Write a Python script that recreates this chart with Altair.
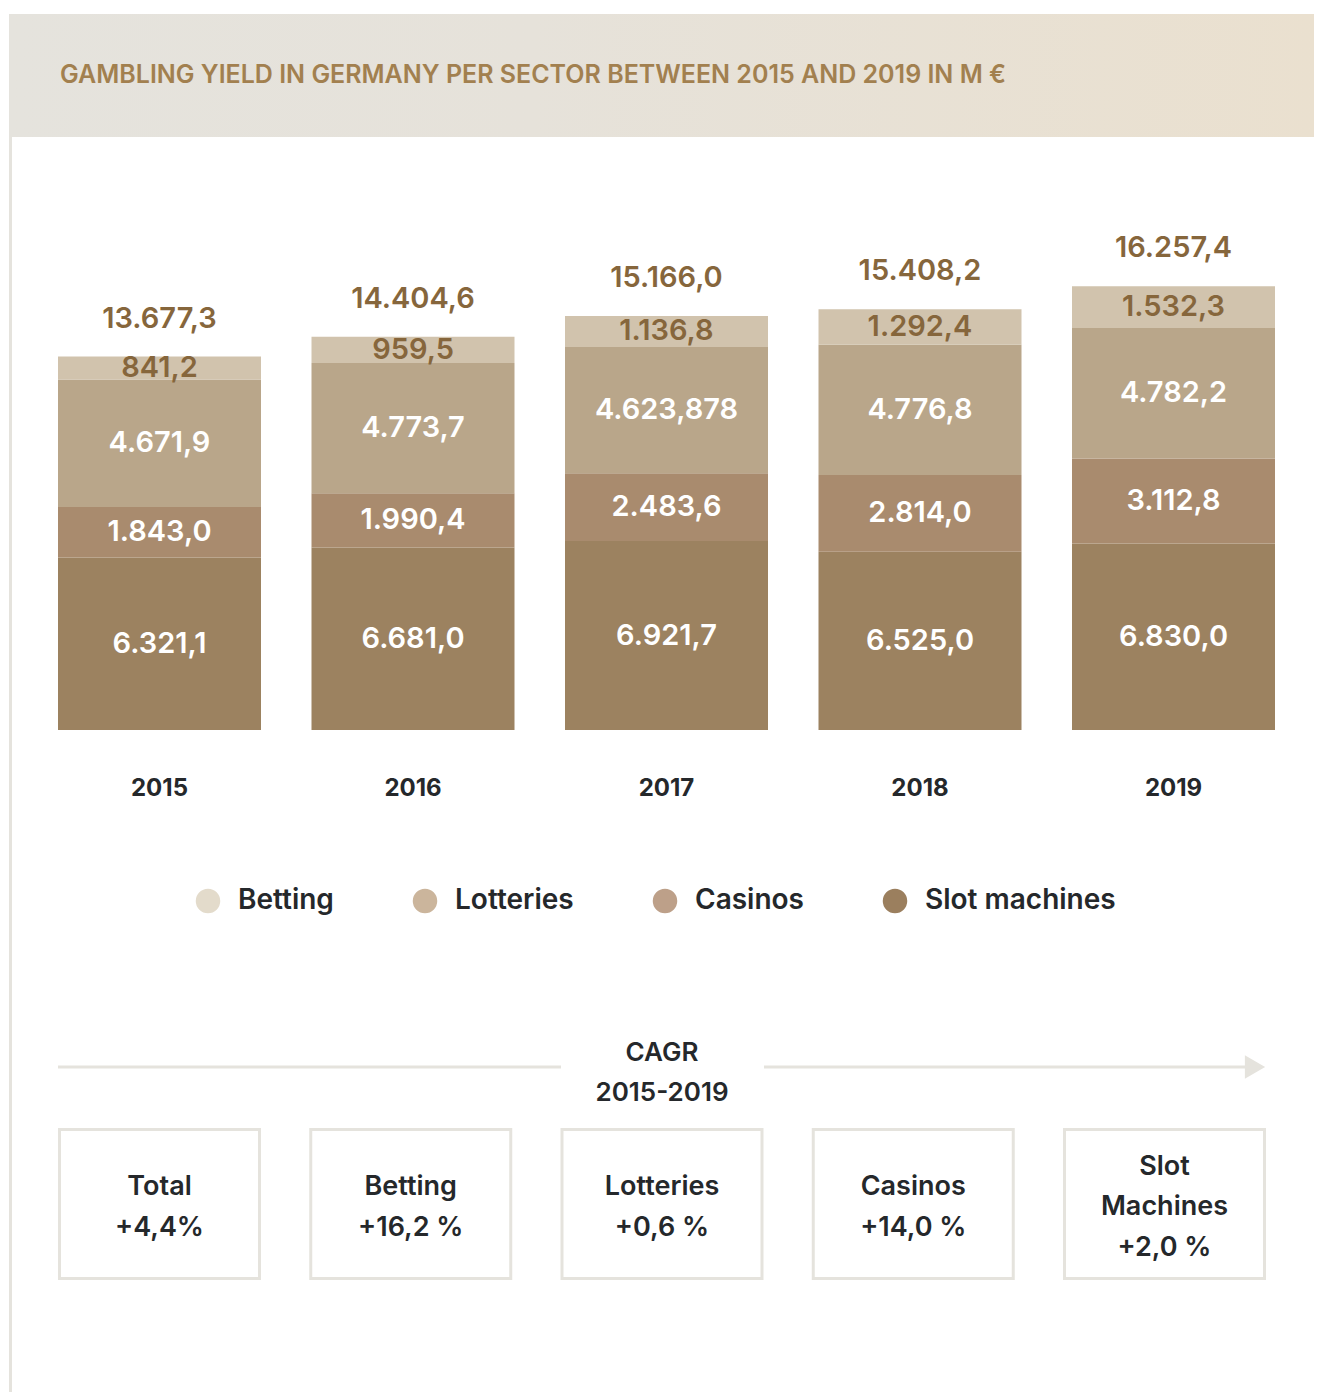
import altair as alt
import pandas as pd

# ---------------- data ----------------
years = ["2015", "2016", "2017", "2018", "2019"]
sectors = ["Betting", "Lotteries", "Casinos", "Slot machines"]
betting = [841.2, 959.5, 1136.8, 1292.4, 1532.3]
lotteries = [4671.9, 4773.7, 4623.878, 4776.8, 4782.2]
casinos = [1843.0, 1990.4, 2483.6, 2814.0, 3112.8]
slot_machines = [6321.1, 6681.0, 6921.7, 6525.0, 6830.0]
totals = [13677.3, 14404.6, 15166.0, 15408.2, 16257.4]

cagr_names = ["Total", "Betting", "Lotteries", "Casinos", "Slot Machines"]
cagr_values = ["+4,4%", "+16,2 %", "+0,6 %", "+14,0 %", "+2,0 %"]

title = "GAMBLING YIELD IN GERMANY PER SECTOR BETWEEN 2015 AND 2019 IN M €"
cagr_title = "CAGR\n2015-2019"

# ---------------- styles ----------------
FONT = "Inter"
bar_colors = {"Betting": "#d1c3ad", "Lotteries": "#b9a68a", "Casinos": "#a98b6e",
              "Slot machines": "#9c8260"}
legend_colors = ["#e3dbcb", "#cbb59c", "#bda089", "#9b7f5e"]
GOLD = "#86663c"
DARK = "#25282b"
LIGHT = "#e5e3dd"


def de(v):
    s = repr(float(v))
    dec = len(s.split(".")[1])
    t = f"{v:,.{dec}f}"
    return t.replace(",", "X").replace(".", ",").replace("X", ".")


# stacked segments (bottom to top)
series = {"Betting": betting, "Lotteries": lotteries, "Casinos": casinos,
          "Slot machines": slot_machines}
stack_order = ["Slot machines", "Casinos", "Lotteries", "Betting"]
rows = []
for i, y in enumerate(years):
    base = 0.0
    for s in stack_order:
        v = series[s][i]
        rows.append({"year": y, "sector": s, "start": base, "end": base + v,
                     "mid": base + v / 2, "label": de(v)})
        base += v
seg = pd.DataFrame(rows)
tot = pd.DataFrame({"year": years, "total": totals, "label": [de(v) for v in totals]})
box_txt_list = [n.replace(" ", "\n") + "\n" + v for n, v in zip(cagr_names, cagr_values)]
boxes = pd.DataFrame({"key": cagr_names, "txt": box_txt_list,
                      "lines": [t.count("\n") + 1 for t in box_txt_list]})
one = pd.DataFrame({"t": [title]})
leg = pd.DataFrame({"sector": sectors})


def xscale():
    return alt.Scale(type="band", domain=years, range=[50, 1267],
                     paddingInner=0.1992, paddingOuter=0)


def boxscale():
    return alt.Scale(type="band", domain=cagr_names, range=[51.5, 1256.5],
                     paddingInner=0.204, paddingOuter=0)


yscale = alt.Scale(domain=[0, 20000], range=[722, 176], nice=False)

gradient = alt.LinearGradient(
    gradient="linear", x1=0, x2=1, y1=0, y2=0,
    stops=[alt.GradientStop(color="#e5e3dd", offset=0),
           alt.GradientStop(color="#e6e2da", offset=0.4),
           alt.GradientStop(color="#eae0cf", offset=1)])

header = alt.Chart(one).mark_rect(color=gradient).encode(
    x=alt.value(1), x2=alt.value(1306), y=alt.value(6), y2=alt.value(129))
title_txt = alt.Chart(one).mark_text(
    align="left", baseline="middle", font=FONT, fontSize=25, fontWeight=600,
    color="#a2804f").encode(x=alt.value(52), y=alt.value(67), text="t:N")
border = alt.Chart(one).mark_rule(color=LIGHT, strokeWidth=3).encode(
    x=alt.value(2.5), y=alt.value(129), y2=alt.value(1392))

bars = alt.Chart(seg).mark_bar(strokeWidth=0).encode(
    x=alt.X("year:N", scale=xscale(), axis=None),
    y=alt.Y("start:Q", scale=yscale, axis=None),
    y2="end:Q",
    color=alt.Color("sector:N",
                    scale=alt.Scale(domain=stack_order,
                                    range=[bar_colors[s] for s in stack_order]),
                    legend=None))

seg_labels = alt.Chart(seg).mark_text(
    align="center", baseline="middle", font=FONT, fontSize=29, fontWeight=600).encode(
    x=alt.X("year:N", scale=xscale(), axis=None),
    y=alt.Y("mid:Q", scale=yscale, axis=None),
    text="label:N",
    color=alt.condition(alt.datum.sector == "Betting", alt.value(GOLD), alt.value("white")))

tot_labels = alt.Chart(tot).mark_text(
    align="center", baseline="middle", dy=-38, font=FONT, fontSize=29, fontWeight=600,
    color=GOLD).encode(
    x=alt.X("year:N", scale=xscale(), axis=None),
    y=alt.Y("total:Q", scale=yscale, axis=None),
    text="label:N")

year_labels = alt.Chart(tot).mark_text(
    align="center", baseline="middle", font=FONT, fontSize=24, fontWeight=700,
    color=DARK).encode(
    x=alt.X("year:N", scale=xscale(), axis=None),
    y=alt.value(781), text="year:N")

legend_layer = alt.Chart(leg).mark_circle(opacity=1).encode(
    x=alt.value(-200), y=alt.value(-200),
    fill=alt.Fill("sector:N", scale=alt.Scale(domain=sectors, range=legend_colors),
                  legend=alt.Legend(
                      title=None, orient="none", legendX=186, legendY=879,
                      direction="horizontal", symbolType="circle", symbolSize=600,
                      symbolOpacity=1, symbolStrokeWidth=0, labelFont=FONT,
                      labelFontSize=28, labelFontWeight=600, labelColor=DARK,
                      labelOffset=16, columnPadding=77, labelLimit=400, padding=0)))

line_left = alt.Chart(one).mark_rule(color=LIGHT, strokeWidth=3).encode(
    x=alt.value(50), x2=alt.value(553), y=alt.value(1059))
line_right = alt.Chart(one).mark_rule(color=LIGHT, strokeWidth=3).encode(
    x=alt.value(756), x2=alt.value(1240), y=alt.value(1059))
arrow = alt.Chart(one).mark_point(shape="triangle-right", filled=True, size=550,
                                  color=LIGHT, opacity=1).encode(
    x=alt.value(1247), y=alt.value(1059))
cagr_txt = alt.Chart(pd.DataFrame({"t": [cagr_title]})).mark_text(
    align="center", baseline="middle", lineBreak="\n", lineHeight=40, font=FONT,
    fontSize=26, fontWeight=600, color=DARK).encode(
    x=alt.value(654), y=alt.value(1045), text="t:N")

box_rects = alt.Chart(boxes).mark_rect(fill="white", stroke=LIGHT, strokeWidth=3).encode(
    x=alt.X("key:N", scale=boxscale(), axis=None),
    y=alt.value(1121.5), y2=alt.value(1270.5))


def box_text(n_lines, y_first):
    return alt.Chart(boxes).transform_filter(alt.datum.lines == n_lines).mark_text(
        align="center", baseline="middle", lineBreak="\n", lineHeight=40.5, font=FONT,
        fontSize=27, fontWeight=600, color=DARK).encode(
        x=alt.X("key:N", scale=boxscale(), axis=None),
        y=alt.value(y_first), text="txt:N")


box_txt2 = box_text(2, 1179)
box_txt3 = box_text(3, 1158.5)

chart = alt.layer(
    header, title_txt, border, bars, seg_labels, tot_labels, year_labels,
    legend_layer, line_left, line_right, arrow, cagr_txt, box_rects, box_txt2, box_txt3
).resolve_scale(x="independent").properties(
    width=1306, height=1384, padding=0,
    autosize=alt.AutoSizeParams(type="none"), background="white"
).configure_view(stroke=None)

chart.save("out.html", embed_options={"renderer": "svg", "actions": False})
